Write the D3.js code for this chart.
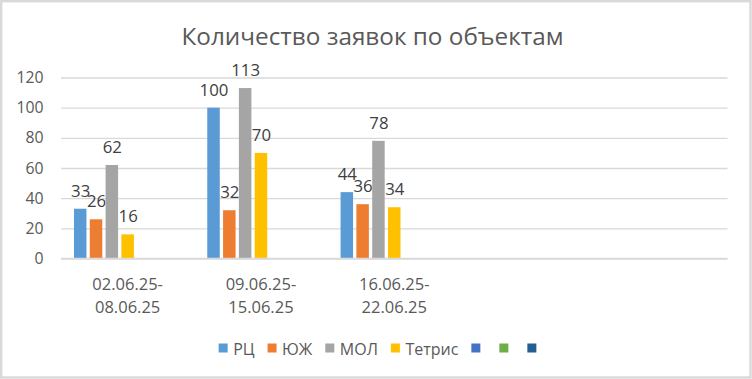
<!DOCTYPE html>
<html><head><meta charset="utf-8">
<script src="https://cdn.jsdelivr.net/npm/d3@7"></script>
<style>body{margin:0;background:#fff}svg{display:block}</style>
</head><body>
<svg id="c" width="752" height="379"></svg>
<script>
const title = "Количество заявок по объектам";
const categories = [["02.06.25-","08.06.25"],["09.06.25-","15.06.25"],["16.06.25-","22.06.25"],[""],[""]];
const seriesNames = ["РЦ","ЮЖ","МОЛ","Тетрис","","",""];
const seriesColors = ["#5B9BD5","#ED7D31","#A5A5A5","#FFC000","#4472C4","#70AD47","#255E91"];
const valuesRC = [33,100,44,null,null];
const valuesUZH = [26,32,36,null,null];
const valuesMOL = [62,113,78,null,null];
const valuesTetris = [16,70,34,null,null];
const valuesS5 = [null,null,null,null,null];
const valuesS6 = [null,null,null,null,null];
const valuesS7 = [null,null,null,null,null];
const yTicks = [0,20,40,60,80,100,120];

const series = [valuesRC,valuesUZH,valuesMOL,valuesTetris,valuesS5,valuesS6,valuesS7];
const font = "'Open Sans', 'Liberation Sans', sans-serif";
const svg = d3.select("#c");

svg.append("rect").attr("x",1.2).attr("y",1.2).attr("width",749.3).attr("height",376.3)
  .attr("fill","#fff").attr("stroke","#D9D9D9").attr("stroke-width",2.4);

svg.append("text").attr("x",372.5).attr("y",44.5).attr("text-anchor","middle")
  .attr("font-family",font).attr("font-size",24.3).attr("fill","#595959").text(title);

const x0 = d3.scaleBand().domain(d3.range(categories.length)).range([61,727.5]).padding(0);
const x1 = d3.scaleBand().domain(d3.range(series.length)).range([0,x0.bandwidth()])
  .paddingInner(0.21).paddingOuter(0.82);
const y = d3.scaleLinear().domain([0,120]).range([258.5,77.5]);

// gridlines
const yAxis = d3.axisLeft(y).tickValues(yTicks).tickSize(-(727.5-61)).tickFormat(d3.format("d")).tickPadding(17.5);
const ga = svg.append("g").attr("transform","translate(61,0)").call(yAxis);
ga.select(".domain").remove();
ga.selectAll(".tick line").attr("stroke","#D9D9D9").attr("stroke-width",1.3);
ga.selectAll(".tick text").attr("font-family",font).attr("font-size",15.8).attr("fill","#595959");

// bars
series.forEach((vals,si)=>{
  const g = svg.append("g");
  vals.forEach((v,ci)=>{
    if(v==null) return;
    const bx = x0(ci)+x1(si);
    g.append("rect").attr("x",bx).attr("y",y(v)).attr("width",x1.bandwidth())
      .attr("height",y(0)-y(v)).attr("fill",seriesColors[si]);
    g.append("text").attr("x",bx+x1.bandwidth()/2+0.5).attr("y",y(v)-12)
      .attr("text-anchor","middle").attr("font-family",font).attr("font-size",16.8)
      .attr("fill","#404040").text(v);
  });
});

// x axis line
svg.append("line").attr("x1",61).attr("x2",727.5).attr("y1",y(0)).attr("y2",y(0))
  .attr("stroke","#D9D9D9").attr("stroke-width",1.3);

// category labels
categories.forEach((lines,ci)=>{
  const cx = x0(ci)+x0.bandwidth()/2;
  lines.forEach((t,li)=>{
    svg.append("text").attr("x",cx).attr("y",290+li*23).attr("text-anchor","middle")
      .attr("font-family",font).attr("font-size",16.5).attr("fill","#595959").text(t);
  });
});

// legend
const lg = svg.append("g");
let lx = 0;
seriesNames.forEach((n,i)=>{
  const it = lg.append("g").attr("transform",`translate(${lx},0)`);
  it.append("rect").attr("x",0).attr("y",343.5).attr("width",9).attr("height",9).attr("fill",seriesColors[i]);
  const t = it.append("text").attr("x",14.5).attr("y",354.5).attr("font-family",font)
    .attr("font-size",16).attr("fill","#595959").text(n);
  const w = n ? t.node().getComputedTextLength() : 0;
  lx += (n ? 14.5 + w + 13 : 28);
});
const totalW = lx - 28 + 9;
lg.attr("transform",`translate(${377.5 - totalW/2},0)`);
</script>
</body></html>
